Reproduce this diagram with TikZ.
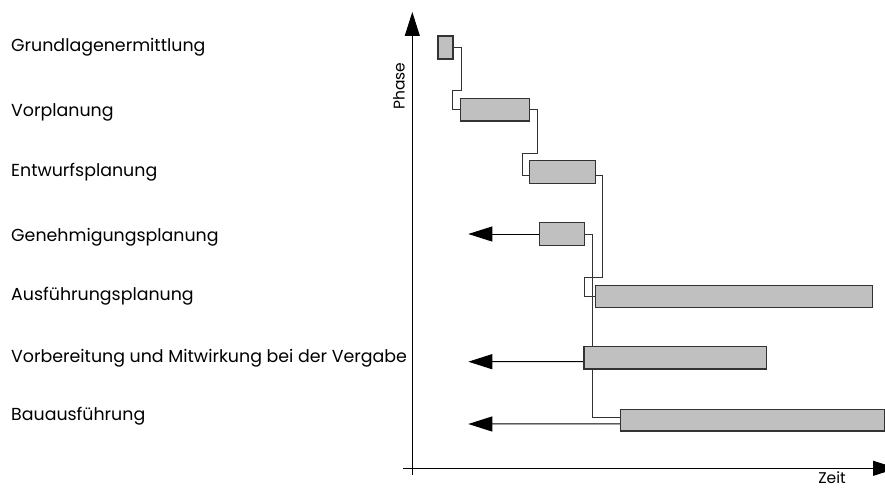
\documentclass[tikz,border=0pt]{standalone}
\usepackage{fontspec}
\setmainfont{Poppins}
\usetikzlibrary{arrows.meta}
\pgfdeclarelayer{background}
\pgfsetlayers{background,main}

\definecolor{barfill}{HTML}{C0C0C0}
\definecolor{barline}{HTML}{333333}

\tikzset{
  phase/.style={anchor=base west, inner sep=0pt, font=\fontsize{17.4}{20}\selectfont},
  bar/.style={draw=barline, fill=barfill, line width=1.3pt, rectangle, inner sep=0pt},
  link/.style={draw=barline, line width=0.9pt},
  axis/.style={draw=black, line width=1pt, -{Triangle[length=24pt,width=15pt]}},
  back/.style={draw=black, line width=1pt, -{Triangle[length=24pt,width=15pt]}},
}

\begin{document}
\begin{tikzpicture}[x=1pt,y=-1pt]
  \clip (0,0) rectangle (885,487);

  % phase names
  \node[phase] (t1) at (11,51.7)  {Grundlagenermittlung};
  \node[phase] (t2) at (11,116.7) {Vorplanung};
  \node[phase] (t3) at (11,176)   {Entwurfsplanung};
  \node[phase] (t4) at (11,241.7) {Genehmigungsplanung};
  \node[phase] (t5) at (11,300.7) {Ausführungsplanung};
  \node[phase] (t6) at (11,362.3) {Vorbereitung und Mitwirkung bei der Vergabe};
  \node[phase] (t7) at (11,420.7) {Bauausführung};

  % axes
  \coordinate (yb) at (412.3,475);
  \coordinate (yt) at (412.3,12);
  \coordinate (xl) at (402.7,468.3);
  \coordinate (xr) at (897,468.3);
  \draw[axis] (yb) -- (yt);
  \draw[axis] (xl) -- (xr);
  \node[rotate=90, inner sep=0pt, font=\fontsize{15.5}{18}\selectfont] (ylab) at (399,86) {Phase};
  \node[anchor=base, inner sep=0pt, font=\fontsize{15.5}{18}\selectfont] (xlab) at (832,483) {Zeit};

  % bars
  \node[bar, minimum width=15pt,    minimum height=23pt]   (b1) at (445.5,47.5)  {};
  \node[bar, minimum width=69pt,    minimum height=22.3pt] (b2) at (494.8,109.8) {};
  \node[bar, minimum width=66pt,    minimum height=22.6pt] (b3) at (562.3,172)   {};
  \node[bar, minimum width=44.6pt,  minimum height=22.6pt] (b4) at (562,234)     {};
  \node[bar, minimum width=277.4pt, minimum height=22pt]   (b5) at (734,296.3)   {};
  \node[bar, minimum width=182.7pt, minimum height=22.3pt] (b6) at (675.35,357.85) {};
  \node[bar, minimum width=263.6pt, minimum height=21.7pt] (b7) at (752.5,420.15) {};

  % dependencies between the phases, drawn behind the bars
  \begin{pgfonlayer}{background}
    \draw[link] (b1.east) -- ++(7.3,0) |- (452.7,90.7) |- (b2.west);
    \draw[link] (b2.east) -- ++(7,0) |- (522.3,153.3) |- ([yshift=-3pt]b3.west);
    \draw[link] ([yshift=-3pt]b3.east) -- ++(6.7,0) |- (584.3,277.7) |- (b5.west);
    \draw[link] (b4.east) -- ++(7.7,0) |- ([yshift=3pt]b7.west);
    \draw[back] (b4.west) -- (468.3,234);
    \draw[back] ([yshift=-3.8pt]b6.west) -- (468.3,361.7);
    \draw[back] ([yshift=-3.8pt]b7.west) -- (468.3,424);
  \end{pgfonlayer}
\end{tikzpicture}
\end{document}
